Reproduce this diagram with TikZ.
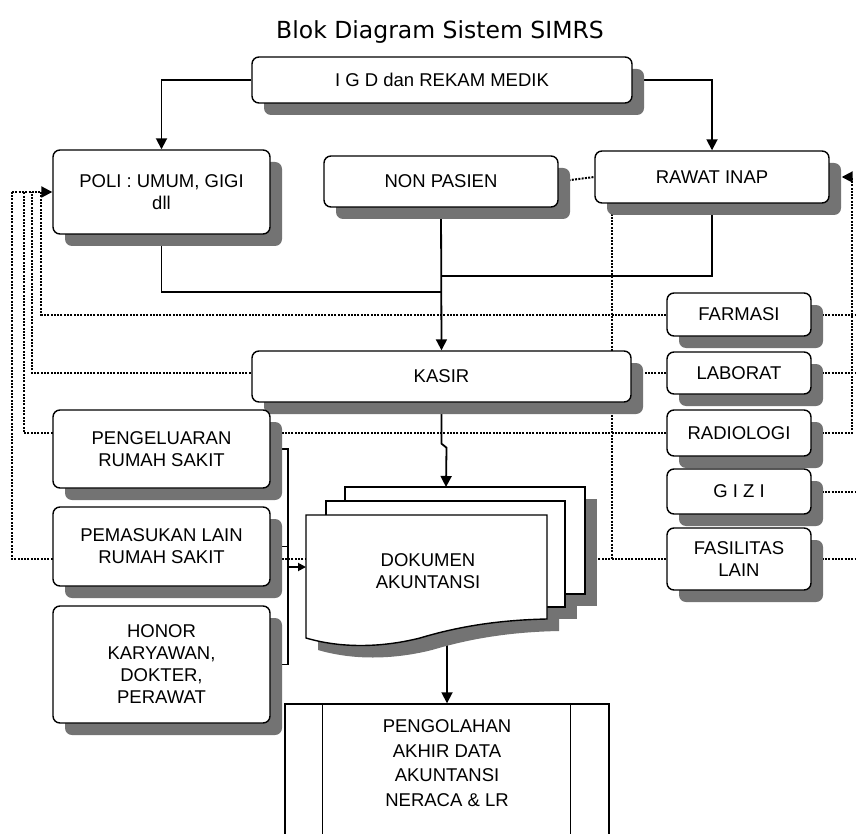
\documentclass[tikz,border=0pt]{standalone}
\usepackage{fontspec}
\setmainfont{Liberation Sans}
\newfontfamily\headfont{DejaVu Sans}
\usetikzlibrary{arrows.meta,shadows,calc}
\pgfdeclarelayer{background}
\pgfsetlayers{background,main}

\tikzset{
  box/.style={draw, line width=1.4pt, rounded corners=7pt, fill=white,
    inner sep=0pt, align=center, font=\fontsize{18.5}{22}\selectfont,
    drop shadow={shadow xshift=12pt, shadow yshift=-12pt, fill=black!55, opacity=1}},
  sidebox/.style={box, minimum width=144pt},
  wire/.style={line width=1.8pt},
  flow/.style={wire, -{Triangle[length=11pt,width=11pt]}},
  smallflow/.style={wire, -{Triangle[length=8pt,width=8pt]}},
  dotline/.style={line width=2pt, dash pattern=on 2pt off 1.3pt},
  tip/.style={-{Triangle[length=11pt,width=11pt]}},
  sheet/.style={draw, line width=1.4pt, fill=white},
  sheetshadow/.style={fill=black!55},
}

\begin{document}
\begin{tikzpicture}[x=1pt,y=-1pt]
    \useasboundingbox (0,0) rectangle (856,834);
    % front page of the document stack
    \def\frontdoc{(306,515) -- (547,515) -- (547,619) .. controls (500,620) and (460,626) .. (420,638) .. controls (380,648) and (340,648) .. (306,638) -- cycle}
    % title
    \node[font=\headfont\fontsize{23.5}{28}\selectfont] (title) at (440,32) {Blok Diagram Sistem SIMRS};
    % top row
    \node[box, minimum width=380pt, minimum height=46pt] (igd) at (442,80) {I G D dan REKAM MEDIK};
    \node[box, minimum width=217pt, minimum height=84pt] (poli) at (161.5,192) {POLI : UMUM, GIGI\\dll};
    \node[box, minimum width=234pt, minimum height=51pt] (nonpasien) at (441,181.5) {NON PASIEN};
    \node[box, minimum width=234pt, minimum height=52pt] (rawat) at (712,177) {RAWAT INAP};
    \node[box, minimum width=379pt, minimum height=51pt] (kasir) at (441.5,376.5) {KASIR};
    % units on the right
    \node[sidebox, minimum height=43pt] (farmasi) at (739,314.5) {FARMASI};
    \node[sidebox, minimum height=42pt] (laborat) at (739,373) {LABORAT};
    \node[sidebox, minimum height=46pt] (radiologi) at (739,433) {RADIOLOGI};
    \node[sidebox, minimum height=45pt] (gizi) at (739,491.5) {G I Z I};
    \node[sidebox, minimum height=62pt] (fasilitas) at (739,559) {FASILITAS\\LAIN};
    % money in and out
    \node[box, minimum width=217pt, minimum height=78pt] (keluar) at (161.5,449) {PENGELUARAN\\RUMAH SAKIT};
    \node[box, minimum width=217pt, minimum height=79pt] (masuk) at (161.5,546.5) {PEMASUKAN LAIN\\RUMAH SAKIT};
    \node[box, minimum width=217pt, minimum height=117pt] (honor) at (161.5,664.5) {HONOR\\KARYAWAN,\\DOKTER,\\PERAWAT};
    % document stack
    \fill[sheetshadow] (357,499) rectangle (597,606);
    \fill[sheetshadow] (338,513) rectangle (577,619);
    \fill[sheetshadow, shift={(12,12)}] \frontdoc;
    \draw[sheet] (345,487) rectangle (585,594);
    \draw[sheet] (326,501) rectangle (565,607);
    \draw[sheet] \frontdoc;
    \node[align=center, font=\fontsize{18.5}{22}\selectfont] (doc) at (428,571) {DOKUMEN\\AKUNTANSI};
    % final processing
    \node[draw, line width=1.4pt, minimum width=324pt, minimum height=152pt, inner sep=0pt] (olah) at (447,780) {};
    \draw[line width=1.2pt] ([xshift=38pt]olah.north west) -- ([xshift=38pt]olah.south west);
    \draw[line width=1.2pt] ([xshift=-39pt]olah.north east) -- ([xshift=-39pt]olah.south east);
    \node[align=center, font=\fontsize{18.5}{24.5}\selectfont] (olahtext) at (447,763) {PENGOLAHAN\\AKHIR DATA\\AKUNTANSI\\NERACA \& LR};
    % joints
    \coordinate (jpoli) at (441,292);
    \coordinate (jrawat) at (441,276);
    \coordinate (docin) at (446,487);
    \coordinate (docout) at (447,633);
    \coordinate (docleft) at (306,567);
    \coordinate (bus) at (288,567);
    \coordinate (lbus) at (12,192);
    \coordinate (rbus) at (852,177);
    \coordinate (rdrop) at ([xshift=18pt]rawat.south west);
    \coordinate (edge) at (856,0);
    \begin{pgfonlayer}{background}
    % solid flow
    \draw[flow] (igd.west) -| (poli.north);
    \draw[flow] (igd.east) -| (rawat.north);
    \draw[wire] (poli.south) |- (jpoli);
    \draw[wire] (rawat.south) |- (jrawat);
    \draw[flow] (nonpasien.south) -- (kasir.north);
    \draw[flow] (kasir.south) -- ++(0,41) -- ++(5,4) -- (docin);
    \draw[flow] (docout) -- (olah.north);
    \draw[wire] (keluar.east) -| (bus);
    \draw[wire] (masuk.east) -| (bus);
    \draw[wire] (honor.east) -| (bus);
    \draw[smallflow] (bus) -- (docleft);
    % dotted links
    \draw[dotline] (nonpasien.east) -- (rawat.west);
    \draw[dotline] (rdrop) -- (rdrop |- fasilitas.west);
    \foreach \n/\d in {farmasi/29, laborat/20, radiologi/12, fasilitas/0}
        \draw[dotline] (\n.west) -| ($(lbus)+(\d,0)$);
    \draw[dotline, tip] (lbus) -- (poli.west);
    \foreach \n in {farmasi, laborat, gizi, fasilitas}
        \draw[dotline] (\n.east) -- (\n.east -| edge);
    \draw[dotline, tip] (radiologi.east) -| (rbus) -- ([xshift=12pt]rawat.east);
    \end{pgfonlayer}
\end{tikzpicture}
\end{document}
